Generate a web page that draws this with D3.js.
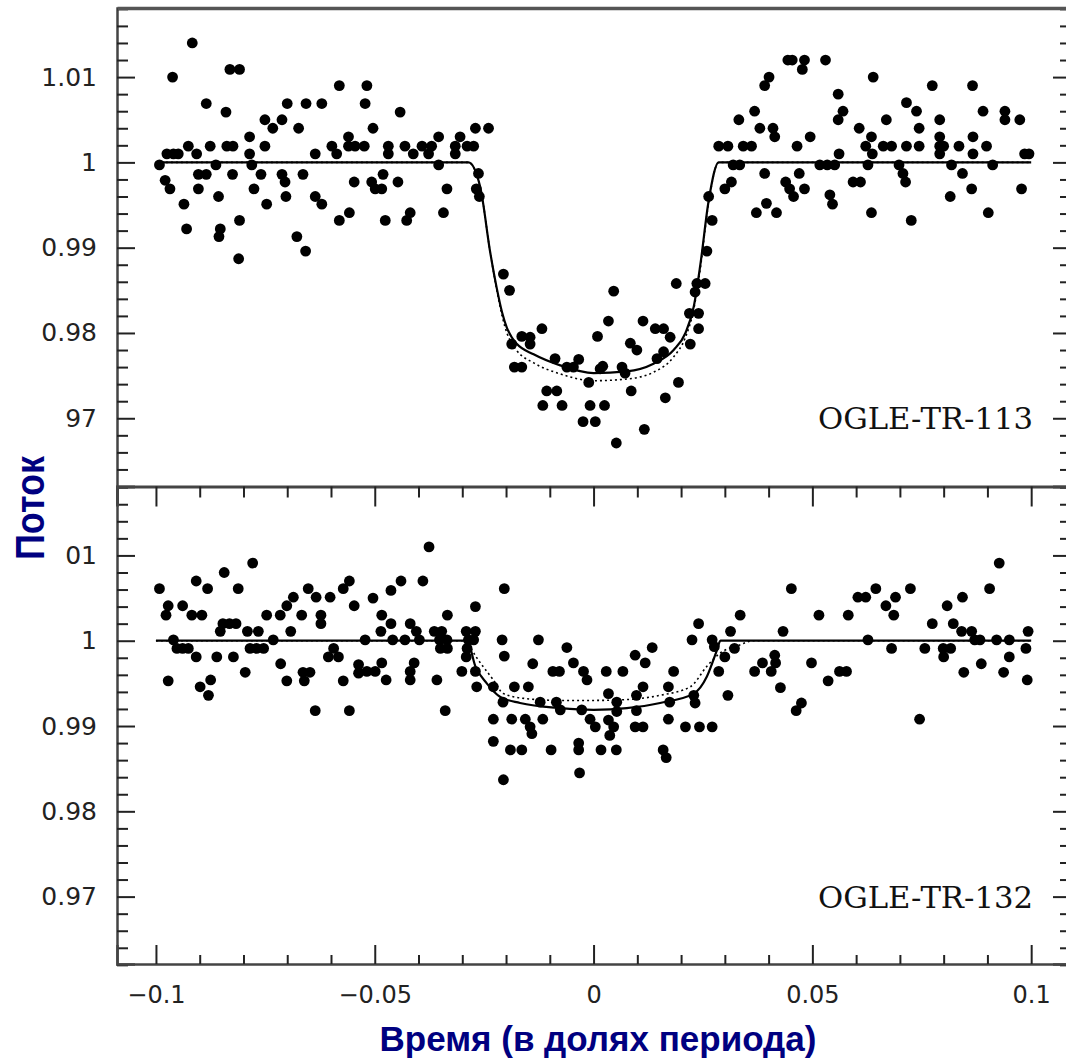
<!DOCTYPE html>
<html><head><meta charset="utf-8">
<script src="https://cdn.jsdelivr.net/npm/d3@7"></script>
<style>body{margin:0;background:#fff}svg{display:block}</style>
</head><body>
<script>
// ---- data ----
const xTickValues = [-0.1, -0.05, 0, 0.05, 0.1];
const xTickLabels = ["\u22120.1", "\u22120.05", "0", "0.05", "0.1"];
const yTickValues = [0.97, 0.98, 0.99, 1.0, 1.01];
const topYLabels = ["97", "0.98", "0.99", "1", "1.01"];
const botYLabels = ["0.97", "0.98", "0.99", "1", "01"];
const panelNames = ["OGLE-TR-113", "OGLE-TR-132"];
const xLabel = "Время (в долях периода)";
const yLabel = "Поток";

const topPoints = [
[-0.0992,0.9997],[-0.0979,0.9979],[-0.0968,0.9969],[-0.0975,1.0010],[-0.0960,1.0010],[-0.0949,1.0010],[-0.0962,1.0100],[-0.0936,0.9951],[-0.0930,0.9922],[-0.0926,1.0019],[-0.0917,1.0140],[-0.0907,1.0010],[-0.0903,0.9986],[-0.0885,0.9986],[-0.0903,0.9969],[-0.0885,1.0069],[-0.0876,1.0019],[-0.0863,0.9997],[-0.0857,0.9960],[-0.0853,0.9922],[-0.0856,0.9913],[-0.0840,1.0059],[-0.0838,1.0019],[-0.0824,1.0019],[-0.0831,1.0109],[-0.0809,1.0109],[-0.0825,0.9986],[-0.0809,0.9932],[-0.0811,0.9887],[-0.0786,1.0030],[-0.0786,1.0010],[-0.0781,0.9997],[-0.0776,0.9969],[-0.0760,0.9986],[-0.0751,1.0050],[-0.0751,1.0019],[-0.0747,0.9951],[-0.0733,1.0040],[-0.0712,1.0050],[-0.0712,0.9986],[-0.0705,0.9977],[-0.0703,0.9960],[-0.0700,1.0069],[-0.0678,0.9913],[-0.0674,1.0040],[-0.0664,0.9986],[-0.0657,1.0069],[-0.0658,0.9896],[-0.0636,1.0010],[-0.0636,0.9960],[-0.0621,0.9951],[-0.0621,1.0069],[-0.0598,1.0019],[-0.0587,1.0010],[-0.0581,1.0090],[-0.0581,0.9932],[-0.0560,1.0030],[-0.0560,1.0019],[-0.0545,1.0019],[-0.0558,0.9941],[-0.0547,0.9977],
[-0.0518,1.0090],[-0.0522,1.0069],[-0.0504,1.0040],[-0.0524,1.0019],[-0.0507,0.9977],[-0.0499,0.9969],[-0.0484,0.9969],[-0.0481,0.9986],[-0.0476,0.9932],[-0.0469,1.0019],[-0.0469,1.0010],[-0.0447,0.9977],[-0.0442,1.0059],[-0.0431,1.0019],[-0.0427,0.9932],[-0.0419,0.9941],[-0.0412,1.0010],[-0.0392,1.0019],[-0.0377,1.0010],[-0.0370,1.0019],[-0.0354,1.0030],[-0.0354,0.9997],[-0.0343,0.9941],[-0.0335,0.9969],[-0.0316,1.0019],[-0.0316,1.0010],[-0.0305,1.0030],[-0.0289,1.0019],[-0.0274,1.0019],[-0.0270,1.0040],[-0.0240,1.0040],[-0.0263,0.9987],[-0.0268,0.9969],[-0.0261,0.9960],[-0.0206,0.9869],[-0.0192,0.9850],[0.0046,0.9849],[0.0189,0.9858],[0.0286,1.0019],[0.0263,0.9960],[0.0271,0.9932],[0.0259,0.9896],[0.0236,0.9858],[0.0255,0.9858],[0.0232,0.9848],
[-0.0187,0.9787],[-0.0181,0.9760],[-0.0164,0.9760],[-0.0164,0.9796],[-0.0145,0.9795],[-0.0145,0.9787],[-0.0118,0.9805],[-0.0107,0.9732],[-0.0084,0.9732],[-0.0116,0.9715],[-0.0072,0.9715],[-0.0088,0.9770],[-0.0061,0.9760],[-0.0046,0.9760],[-0.0034,0.9769],[-0.0024,0.9696],[0.0004,0.9696],[-0.0008,0.9715],[0.0025,0.9715],[-0.0011,0.9742],[0.0009,0.9796],[0.0015,0.9758],[0.0021,0.9761],[0.0034,0.9814],[0.0052,0.9671],[0.0065,0.9760],[0.0072,0.9753],[0.0084,0.9788],[0.0099,0.9780],[0.0086,0.9732],[0.0113,0.9814],[0.0116,0.9687],[0.0141,0.9805],[0.0160,0.9805],[0.0175,0.9795],[0.0145,0.9770],[0.0160,0.9778],[0.0164,0.9724],[0.0194,0.9742],[0.0221,0.9787],[0.0219,0.9823],[0.0240,0.9823],[0.0240,0.9805],
[0.0300,0.9969],[0.0315,0.9977],[0.0307,1.0019],[0.0319,0.9997],[0.0334,0.9997],[0.0332,1.0050],[0.0342,1.0019],[0.0361,1.0019],[0.0368,1.0060],[0.0380,1.0040],[0.0372,0.9941],[0.0391,0.9987],[0.0395,0.9952],[0.0391,1.0090],[0.0401,1.0100],[0.0410,1.0040],[0.0414,1.0030],[0.0418,0.9941],[0.0439,0.9977],[0.0448,0.9969],[0.0457,0.9960],[0.0444,1.0120],[0.0454,1.0120],[0.0482,1.0120],[0.0477,1.0109],[0.0465,1.0019],[0.0470,0.9987],[0.0482,0.9969],[0.0495,1.0030],[0.0517,0.9997],[0.0534,0.9997],[0.0551,0.9997],[0.0530,1.0120],[0.0540,0.9962],[0.0546,0.9951],[0.0559,1.0080],[0.0559,1.0050],[0.0570,1.0060],[0.0561,1.0010],[0.0593,0.9977],[0.0610,0.9977],[0.0607,1.0040],[0.0622,1.0019],[0.0627,0.9997],[0.0635,1.0030],[0.0637,1.0010],[0.0639,1.0100],[0.0635,0.9941],[0.0662,1.0019],[0.0681,1.0019],[0.0669,1.0050],[0.0698,0.9997],[0.0707,0.9987],[0.0713,0.9977],[0.0715,1.0019],[0.0715,1.0070],[0.0738,1.0060],[0.0744,1.0040],[0.0744,1.0019],[0.0726,0.9932],[0.0774,1.0090],[0.0791,1.0050],[0.0791,1.0030],[0.0791,1.0019],[0.0800,1.0019],[0.0791,1.0010],[0.0818,0.9997],[0.0815,0.9960],[0.0835,1.0019],[0.0843,0.9987],[0.0864,0.9969],[0.0866,1.0090],[0.0867,1.0030],[0.0867,1.0010],[0.0890,1.0060],[0.0898,1.0019],[0.0902,0.9941],[0.0912,0.9997],[0.0940,1.0060],[0.0940,1.0050],[0.0974,1.0050],[0.0978,0.9969],[0.0985,1.0010],[0.0995,1.0010]
];

const botPoints = [
[-0.0992,1.0061],[-0.0972,1.0041],[-0.0977,1.0030],[-0.0960,1.0001],[-0.0952,0.9991],[-0.0939,0.9991],[-0.0926,0.9991],[-0.0939,1.0041],[-0.0972,0.9953],[-0.0918,1.0030],[-0.0895,1.0030],[-0.0908,1.0070],[-0.0908,0.9981],[-0.0899,0.9946],[-0.0880,0.9936],[-0.0875,0.9954],[-0.0882,1.0061],[-0.0861,0.9981],[-0.0853,1.0011],[-0.0847,1.0020],[-0.0832,1.0020],[-0.0817,1.0020],[-0.0844,1.0080],[-0.0823,0.9981],[-0.0812,1.0061],[-0.0796,0.9963],[-0.0791,1.0011],[-0.0766,1.0011],[-0.0785,0.9991],[-0.0770,0.9991],[-0.0754,0.9991],[-0.0779,1.0091],[-0.0747,1.0030],[-0.0716,1.0030],[-0.0732,1.0001],[-0.0715,0.9973],[-0.0701,0.9953],[-0.0701,1.0041],[-0.0686,1.0051],[-0.0692,1.0011],[-0.0667,1.0030],[-0.0664,0.9963],[-0.0648,0.9963],[-0.0661,0.9953],[-0.0652,1.0061],[-0.0634,1.0051],[-0.0636,0.9918],[-0.0623,1.0030],[-0.0623,1.0020],[-0.0602,1.0051],[-0.0606,0.9981],[-0.0594,0.9991],[-0.0583,0.9981],[-0.0572,1.0061],[-0.0558,1.0070],[-0.0572,0.9953],[-0.0558,0.9918],[-0.0547,1.0041],[-0.0537,0.9972],[-0.0537,0.9962],
[-0.0522,1.0001],[-0.0518,0.9964],[-0.0499,0.9964],[-0.0484,0.9974],[-0.0504,1.0050],[-0.0484,1.0030],[-0.0486,1.0011],[-0.0474,0.9954],[-0.0463,1.0059],[-0.0463,1.0020],[-0.0459,1.0001],[-0.0440,1.0070],[-0.0431,1.0001],[-0.0419,1.0020],[-0.0419,0.9964],[-0.0419,0.9954],[-0.0410,0.9974],[-0.0405,1.0011],[-0.0398,1.0001],[-0.0390,1.0070],[-0.0376,1.0110],[-0.0364,1.0011],[-0.0347,1.0011],[-0.0358,0.9954],[-0.0352,1.0001],[-0.0335,1.0001],[-0.0350,0.9991],[-0.0334,0.9991],[-0.0334,1.0030],[-0.0339,0.9918],[-0.0301,0.9964],[-0.0291,1.0011],[-0.0270,1.0011],[-0.0286,1.0001],[-0.0289,0.9991],[-0.0274,1.0001],[-0.0291,0.9981],[-0.0270,1.0040],[-0.0270,0.9964],[-0.0267,0.9946],[-0.0229,0.9946],[-0.0229,0.9908],[-0.0229,0.9882],[-0.0209,1.0001],[-0.0204,1.0061],[-0.0204,0.9982],[-0.0207,0.9928],[-0.0206,0.9837],[-0.0190,0.9872],[-0.0164,0.9872],[-0.0187,0.9908],[-0.0181,0.9946],[-0.0149,0.9946],[-0.0156,0.9908],[-0.0145,0.9899],[-0.0141,0.9891],[-0.0139,0.9973],[-0.0126,1.0001],[-0.0122,0.9928],[-0.0116,0.9908],[-0.0097,0.9872],[-0.0093,0.9964],[-0.0078,0.9964],[-0.0085,0.9928],[-0.0076,0.9919],[-0.0061,0.9992],[-0.0046,0.9974],[-0.0034,0.9880],[-0.0034,0.9872],[-0.0032,0.9845],[-0.0027,0.9919],[-0.0023,0.9964],[-0.0015,0.9954],[-0.0008,0.9908],[0.0004,0.9899],[0.0017,0.9872],[0.0052,0.9872],[0.0029,0.9964],[0.0067,0.9964],[0.0034,0.9938],[0.0034,0.9907],[0.0046,0.9899],[0.0037,0.9889],[0.0053,0.9928],[0.0053,0.9917],[0.0095,0.9983],[0.0118,0.9974],[0.0098,0.9936],[0.0113,0.9946],[0.0098,0.9918],[0.0095,0.9899],[0.0113,0.9899],[0.0134,0.9992],[0.0159,0.9872],[0.0166,0.9863],[0.0171,0.9946],[0.0174,0.9928],[0.0171,0.9908],[0.0183,0.9964],[0.0210,0.9899],[0.0242,0.9899],[0.0271,0.9899],[0.0225,1.0001],[0.0229,0.9936],[0.0232,0.9927],[0.0240,1.0020],[0.0271,1.0001],[0.0276,0.9993],[0.0286,0.9964],
[0.0300,0.9981],[0.0307,0.9936],[0.0313,1.0011],[0.0322,0.9991],[0.0335,1.0030],[0.0368,0.9964],[0.0386,0.9974],[0.0406,0.9964],[0.0414,0.9983],[0.0416,0.9974],[0.0427,0.9945],[0.0433,1.0011],[0.0452,1.0061],[0.0463,0.9918],[0.0475,0.9927],[0.0498,0.9974],[0.0515,1.0030],[0.0536,0.9953],[0.0562,0.9964],[0.0578,0.9964],[0.0582,1.0030],[0.0604,1.0051],[0.0622,1.0051],[0.0627,1.0001],[0.0645,1.0061],[0.0668,1.0041],[0.0686,1.0030],[0.0690,1.0051],[0.0681,0.9991],[0.0724,1.0061],[0.0745,0.9908],[0.0757,0.9991],[0.0774,1.0020],[0.0799,0.9991],[0.0816,0.9991],[0.0800,0.9981],[0.0808,1.0041],[0.0822,1.0020],[0.0841,1.0011],[0.0843,1.0051],[0.0846,0.9963],[0.0864,1.0011],[0.0871,1.0001],[0.0883,1.0001],[0.0886,0.9973],[0.0905,1.0061],[0.0921,1.0001],[0.0950,1.0001],[0.0927,1.0091],[0.0937,0.9963],[0.0950,0.9981],[0.0988,0.9991],[0.0993,1.0011],[0.0991,0.9954]
];

// transit model curves
const topModelX   = [-0.1,-0.0286,-0.0259,-0.0236,-0.0221,-0.0209,-0.0198,-0.0187,-0.0175,-0.0137,-0.0076,0,0.0076,0.0137,0.0183,0.0210,0.0229,0.0244,0.0263,0.0286,0.1];
const topSolidY   = [1,1,0.9971,0.9894,0.9852,0.9824,0.9806,0.9795,0.9787,0.9775,0.9762,0.9753,0.9755,0.9764,0.9780,0.9800,0.9831,0.9880,0.9955,1,1];
const topDottedY  = [1,1,0.9971,0.9894,0.9850,0.9820,0.9800,0.9788,0.9779,0.9765,0.9752,0.9744,0.9746,0.9754,0.9772,0.9795,0.9828,0.9876,0.9953,1,1];
const botSolidX   = [-0.1,-0.0289,-0.0270,-0.0244,-0.0213,-0.0168,-0.0076,0,0.0076,0.0152,0.0229,0.0259,0.0282,0.0290,0.1];
const botSolidY   = [1,1,0.9970,0.9950,0.9934,0.9927,0.9921,0.9919,0.9921,0.9927,0.9938,0.9958,0.9989,1,1];
const botDottedX  = [-0.1,-0.0289,-0.0282,-0.0229,-0.0206,-0.0152,-0.0076,0,0.0076,0.0152,0.0221,0.0259,0.0288,0.0334,0.0364,0.1];
const botDottedY  = [1,1,0.9993,0.9954,0.9938,0.9932,0.9930,0.9930,0.9931,0.9936,0.9946,0.9970,0.9985,0.9995,1,1];

// ---- drawing ----
const W = 1066, H = 1064;
const L = 117, R = 1071, T = 8, MID = 486.5, B = 964;
const svg = d3.select("body").append("svg").attr("width", W).attr("height", H);

const x = d3.scaleLinear().domain([-0.1089, 0.1091]).range([L, R]);
const yTop = d3.scaleLinear().domain([0.9620, 1.0181]).range([MID, T]);
const yBot = d3.scaleLinear().domain([0.9621, 1.01808]).range([B, MID]);

const tickFont = "'DejaVu Sans', sans-serif";
const minorY = d3.range(0.962, 1.0181, 0.002).filter(v => Math.abs(Math.round(v*100) - v*100) > 1e-6);
const minorX = d3.range(-0.10, 0.1001, 0.01).filter(v => Math.abs(Math.round(v*20) - v*20) > 1e-6);

function styleAxis(g) {
  g.select(".domain").attr("stroke", "#444").attr("stroke-width", 2.5);
  g.selectAll(".tick line").attr("stroke", "#222").attr("stroke-width", 2);
  g.selectAll(".tick text").attr("fill", "#222").attr("font-family", tickFont).attr("font-size", 25);
}

function drawPanel(y, labels, points, lines, name, nameY) {
  const gl = svg.append("g").attr("transform", `translate(${L},0)`)
    .call(d3.axisLeft(y).tickValues(yTickValues).tickSize(-18).tickPadding(20)
      .tickFormat((d, i) => labels[i]));
  styleAxis(gl);
  svg.append("g").attr("transform", `translate(${L},0)`)
    .call(d3.axisLeft(y).tickValues(minorY).tickSize(-11).tickFormat(""))
    .call(g => { g.select(".domain").remove(); g.selectAll(".tick line").attr("stroke", "#222").attr("stroke-width", 2); });
  const gr = svg.append("g").attr("transform", `translate(${R},0)`)
    .call(d3.axisRight(y).tickValues(yTickValues).tickSize(-18).tickFormat(""));
  styleAxis(gr);
  svg.append("g").attr("transform", `translate(${R},0)`)
    .call(d3.axisRight(y).tickValues(minorY).tickSize(-11).tickFormat(""))
    .call(g => { g.select(".domain").remove(); g.selectAll(".tick line").attr("stroke", "#222").attr("stroke-width", 2); });

  lines.forEach(l => {
    const gen = d3.line().x(d => x(d[0])).y(d => y(d[1])).curve(d3.curveMonotoneX);
    svg.append("path").datum(l.xs.map((v, i) => [v, l.ys[i]]))
      .attr("d", gen).attr("fill", "none").attr("stroke", "#000")
      .attr("stroke-width", l.dotted ? 1.6 : 2.2)
      .attr("stroke-dasharray", l.dotted ? "2,3" : null);
  });

  svg.append("g").selectAll("circle").data(points).join("circle")
    .attr("cx", d => x(d[0])).attr("cy", d => y(d[1])).attr("r", 5.4).attr("fill", "#000");

  svg.append("text").attr("x", 1033).attr("y", nameY).attr("text-anchor", "end")
    .attr("font-family", "'DejaVu Serif', serif").attr("font-size", 29).attr("fill", "#111")
    .attr("textLength", 215).attr("lengthAdjust", "spacingAndGlyphs").text(name);
}

drawPanel(yTop, topYLabels, topPoints,
  [{xs: topModelX, ys: topDottedY, dotted: true}, {xs: topModelX, ys: topSolidY}],
  panelNames[0], 429);
drawPanel(yBot, botYLabels, botPoints,
  [{xs: botDottedX, ys: botDottedY, dotted: true}, {xs: botSolidX, ys: botSolidY}],
  panelNames[1], 908);

svg.append("g").attr("transform", `translate(0,${T})`)
  .call(d3.axisTop(x).tickValues([]).tickSize(0))
  .call(g => g.select(".domain").attr("stroke", "#555").attr("stroke-width", 3.5));

const gm = svg.append("g").attr("transform", `translate(0,${MID})`)
  .call(d3.axisTop(x).tickValues(xTickValues).tickSize(-20).tickFormat(""));
styleAxis(gm);
gm.select(".domain").attr("stroke-width", 3);
svg.append("g").attr("transform", `translate(0,${MID})`)
  .call(d3.axisTop(x).tickValues(minorX).tickSize(-11).tickFormat(""))
  .call(g => { g.select(".domain").remove(); g.selectAll(".tick line").attr("stroke", "#222").attr("stroke-width", 2); });

const gb = svg.append("g").attr("transform", `translate(0,${B})`)
  .call(d3.axisBottom(x).tickValues(xTickValues).tickSize(-19).tickPadding(22)
    .tickFormat((d, i) => xTickLabels[i]));
styleAxis(gb);
gb.selectAll(".tick text").attr("font-size", 24);
svg.append("g").attr("transform", `translate(0,${B})`)
  .call(d3.axisBottom(x).tickValues(minorX).tickSize(-9).tickFormat(""))
  .call(g => { g.select(".domain").remove(); g.selectAll(".tick line").attr("stroke", "#222").attr("stroke-width", 2); });

svg.append("text").attr("x", 598).attr("y", 1051).attr("text-anchor", "middle")
  .attr("font-family", "'Liberation Sans', Arial, sans-serif").attr("font-weight", "bold")
  .attr("font-size", 35).attr("fill", "#000080").text(xLabel);
svg.append("text").attr("transform", "translate(44,508) rotate(-90)").attr("text-anchor", "middle")
  .attr("font-family", "'Liberation Sans', Arial, sans-serif").attr("font-weight", "bold")
  .attr("font-size", 40).attr("fill", "#000080")
  .attr("textLength", 104).attr("lengthAdjust", "spacingAndGlyphs").text(yLabel);
</script>
</body></html>
